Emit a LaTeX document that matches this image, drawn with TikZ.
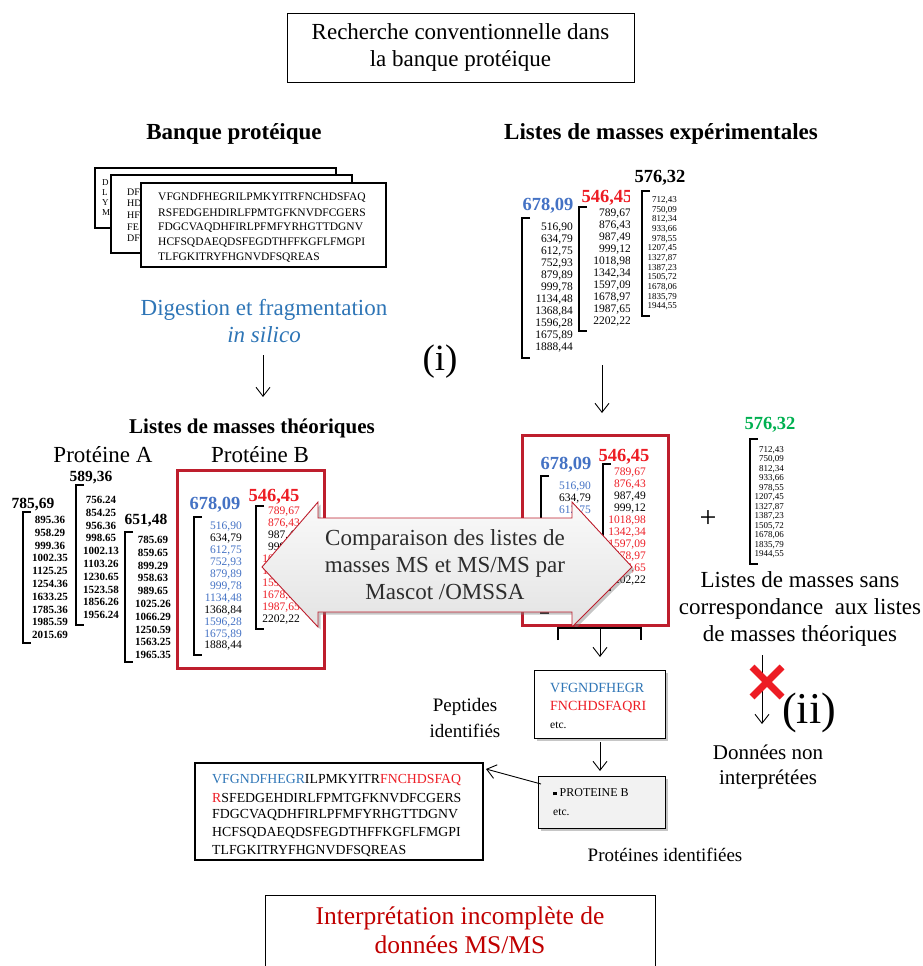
\documentclass[tikz,border=0pt]{standalone}
\usepackage{fontspec}
\setmainfont{Liberation Serif}
\usetikzlibrary{arrows.meta,shadows,positioning}
\definecolor{boxred}{RGB}{190,30,45}
\definecolor{numblue}{RGB}{68,114,196}
\definecolor{numred}{RGB}{237,28,36}
\definecolor{digblue}{RGB}{46,117,182}
\definecolor{numgreen}{RGB}{0,176,80}
\definecolor{intred}{RGB}{192,0,0}
\definecolor{txtgray}{RGB}{45,45,45}
\tikzset{
  big/.style={font=\fontsize{23}{27}\selectfont, align=center, inner sep=0pt},
  side/.style={font=\fontsize{19}{26}\selectfont, align=center, inner sep=0pt},
  ttl/.style={font=\bfseries\fontsize{23}{24}\selectfont, inner sep=0pt},
  hdr/.style={font=\bfseries\fontsize{18.5}{19}\selectfont, inner sep=0pt},
  hdrA/.style={font=\bfseries\fontsize{15.5}{16}\selectfont, inner sep=0pt},
  num/.style={anchor=east, inner sep=0pt, font=\fontsize{11.5}{12}\selectfont},
  numA/.style={inner sep=0pt, font=\bfseries\fontsize{11}{12}\selectfont},
  numsm/.style={anchor=east, inner sep=0pt, font=\fontsize{9}{9}\selectfont},
  seq/.style={anchor=west, inner sep=0pt, font=\fontsize{11.5}{12}\selectfont},
  seqbig/.style={anchor=west, inner sep=0pt, font=\fontsize{13.8}{14}\selectfont},
  brk/.style={line width=1.4pt},
  redbox/.style={draw=boxred, line width=3pt},
  seqbox/.style={draw, line width=1.2pt, fill=white},
  arr/.style={-{Straight Barb[length=9pt,width=14pt]}, line width=0.9pt},
  shad/.style={drop shadow={opacity=0.45, shadow xshift=2.5pt, shadow yshift=-2.5pt}},
}
\newcommand{\massbracket}[3]{\draw[brk] (#1+8,#2) -- (#1,#2) -- (#1,#3) -- (#1+8,#3);}
\begin{document}
\begin{tikzpicture}[x=1pt,y=-1pt]
\useasboundingbox (0,0) rectangle (923,966);
% Titre
\node[big, draw, line width=0.8pt, minimum width=347pt, minimum height=69pt] (titre) at (460.5,47.5) {Recherche conventionnelle dans\\la banque protéique};
\node[ttl] (tbanque) at (234,134) {Banque protéique};
\node[ttl] (texp) at (661,134) {Listes de masses expérimentales};
% Banque : fiches empilées
\draw[seqbox] (95,168) rectangle (336,228);
\foreach \s [count=\i from 0] in {D,L,Y,M}
  \node[seq, font=\fontsize{9}{9}\selectfont] (ba\i) at (102,183+10*\i) {\s};
\draw[seqbox] (111,175) rectangle (352,253);
\foreach \s [count=\i from 0] in {DF,HD,HF,FE,DF}
  \node[seq, font=\fontsize{10}{10}\selectfont] (bb\i) at (127,192+11.6*\i) {\s};
\draw[seqbox] (141,183) rectangle (386,267);
\foreach \s [count=\i from 0] in {VFGNDFHEGRILPMKYITRFNCHDSFAQ,RSFEDGEHDIRLFPMTGFKNVDFCGERS,FDGCVAQDHFIRLPFMFYRHGTTDGNV,HCFSQDAEQDSFEGDTHFFKGFLFMGPI,TLFGKITRYFHGNVDFSQREAS}
  \node[seq] (bc\i) at (158,198+15*\i) {\s};
\node[big, text=digblue] (digest) at (264,321) {Digestion et fragmentation\\\itshape in silico};
\coordinate (d1) at (263,355);
\coordinate (d2) at (263,397);
\draw[arr] (d1) -- (d2);
\node[font=\fontsize{37}{37}\selectfont, inner sep=0pt] (etapei) at (440,362) {(i)};
% Listes expérimentales
\node[hdr, text=numblue] (e678) at (548,206) {678,09};
\massbracket{522}{218}{358}
\foreach \v [count=\i from 0] in {516{,}90,634{,}79,612{,}75,752{,}93,879{,}89,999{,}78,1134{,}48,1368{,}84,1596{,}28,1675{,}89,1888{,}44}
  \node[num] (ea\i) at (573,228+12*\i) {\v};
\begin{scope}
  \clip (570,180) rectangle (629,340);
  \node[hdr, text=numred] (e546) at (607,198) {546,45};
  \foreach \v [count=\i from 0] in {789{,}67,876{,}43,987{,}49,999{,}12,1018{,}98,1342{,}34,1597{,}09,1678{,}97,1987{,}65,2202{,}22}
    \node[num] (eb\i) at (631,214+12*\i) {\v};
\end{scope}
\massbracket{579}{207}{331}
\node[hdr] (e576) at (660,178) {576,32};
\massbracket{642}{191}{316}
\foreach \v [count=\i from 0] in {712{,}43,750{,}09,812{,}34,933{,}66,978{,}55,1207{,}45,1327{,}87,1387{,}23,1505{,}72,1678{,}06,1835{,}79,1944{,}55}
  \node[numsm] (ec\i) at (677,200+9.7*\i) {\v};
\coordinate (d3) at (602,365);
\coordinate (d4) at (602,413);
\draw[arr] (d3) -- (d4);
% Listes théoriques
\node[ttl, font=\bfseries\fontsize{21}{24}\selectfont] (ttheo) at (252,428) {Listes de masses théoriques};
\node[big] (protA) at (103,455) {Protéine A};
\node[big] (protB) at (260,455) {Protéine B};
\node[hdrA] (a785) at (33,505) {785,69};
\massbracket{23}{512}{643}
\foreach \v [count=\i from 0] in {895.36,958.29,999.36,1002.35,1125.25,1254.36,1633.25,1785.36,1985.59,2015.69}
  \node[numA] (aa\i) at (50,520+12.8*\i) {\v};
\node[hdrA] (a589) at (91,478) {589,36};
\massbracket{76}{485}{625}
\foreach \v [count=\i from 0] in {756.24,854.25,956.36,998.65,1002.13,1103.26,1230.65,1523.58,1856.26,1956.24}
  \node[numA] (ab\i) at (101,500+12.8*\i) {\v};
\node[hdrA] (a651) at (146,521) {651,48};
\massbracket{125}{532}{662}
\foreach \v [count=\i from 0] in {785.69,859.65,899.29,958.63,989.65,1025.26,1066.29,1250.59,1563.25,1965.35}
  \node[numA] (ac\i) at (153,540+12.8*\i) {\v};
% Protéine B
\node[redbox, minimum width=147pt, minimum height=198pt] (boxB) at (250.5,569) {};
\node[hdr, text=numblue] (b678) at (215,505) {678,09};
\massbracket{194}{517}{655}
\foreach \v/\c [count=\i from 0] in {516{,}90/numblue,634{,}79/black,612{,}75/numblue,752{,}93/numblue,879{,}89/numblue,999{,}78/numblue,1134{,}48/numblue,1368{,}84/black,1596{,}28/numblue,1675{,}89/numblue,1888{,}44/black}
  \node[num, text=\c] (pa\i) at (242,527+11.9*\i) {\v};
\node[hdr, text=numred] (b546) at (274,497) {546,45};
\massbracket{256}{506}{629}
\foreach \v/\c [count=\i from 0] in {789{,}67/numred,876{,}43/numred,987{,}49/black,999{,}12/black,1018{,}98/numred,1342{,}34/numred,1597{,}09/numred,1678{,}97/numred,1987{,}65/numred,2202{,}22/black}
  \node[num, text=\c] (pb\i) at (300,512+12*\i) {\v};
% Listes expérimentales retenues (le reste est sous la flèche)
\node[redbox, minimum width=146pt, minimum height=190pt] (boxR) at (595,530) {};
\node[hdr, text=numblue] (r678) at (566,465) {678,09};
\massbracket{541}{476}{613}
\foreach \v/\c/\i in {516{,}90/numblue/0,634{,}79/black/1,612{,}75/numblue/2,1888{,}44/black/10}
  \node[num, text=\c] (ra\i) at (591,487+12*\i) {\v};
\node[hdr, text=numred] (r546) at (624,457) {546,45};
\massbracket{603}{464}{590}
\foreach \v/\c [count=\i from 0] in {789{,}67/numred,876{,}43/numred,987{,}49/black,999{,}12/black,1018{,}98/numred,1342{,}34/numred,1597{,}09/numred,1678{,}97/numred,1987{,}65/numred,2202{,}22/black}
  \node[num, text=\c] (rb\i) at (646,473+12*\i) {\v};
% Flèche double de comparaison
\draw[draw=boxred, line width=0.9pt, top color=gray!4, bottom color=gray!22, shad]
  (262,567) -- (318,502) -- (318,518) -- (572,518) -- (572,502) -- (632,567)
  -- (572,627) -- (572,612) -- (318,612) -- (318,627) -- cycle;
\node[big, text=txtgray] (compar) at (445,565) {Comparaison des listes de\\masses MS et MS/MS par\\Mascot /OMSSA};
% Masses sans correspondance
\node[font=\fontsize{30}{30}\selectfont, inner sep=0pt] (plus) at (708,519) {+};
\node[hdr, text=numgreen] (g576) at (770,425) {576,32};
\massbracket{750}{439}{564}
\foreach \v [count=\i from 0] in {712{,}43,750{,}09,812{,}34,933{,}66,978{,}55,1207{,}45,1327{,}87,1387{,}23,1505{,}72,1678{,}06,1835{,}79,1944{,}55}
  \node[numsm] (gc\i) at (784,450+9.5*\i) {\v};
\node[big] (sanscor) at (800,609) {Listes de masses sans\\correspondance~~aux listes\\de masses théoriques};
\coordinate (x1) at (762,655);
\coordinate (x2) at (762,724);
\draw[arr] (x1) -- (x2);
\draw[line width=7pt, numred] (752,667) -- (782,697) (782,667) -- (752,697);
\node[font=\fontsize{44}{44}\selectfont, inner sep=0pt] (etapeii) at (809,713) {(ii)};
\node[big, font=\fontsize{21}{25}\selectfont] (nonint) at (768,767) {Données non\\interprétées};
% Identification
\draw[line width=1.2pt] (558,640) -- (558,628) -- (641,628) -- (641,640);
\coordinate (c1) at (600,628);
\coordinate (c2) at (600,657);
\draw[arr] (c1) -- (c2);
\node[draw, line width=1pt, fill=white, shad, minimum width=131pt, minimum height=68pt] (pep) at (599.5,704) {};
\node[seqbig, text=digblue, font=\fontsize{14}{14}\selectfont] (pep1) at (550,688) {VFGNDFHEGR};
\node[seqbig, text=numred, font=\fontsize{14}{14}\selectfont] (pep2) at (550,707) {FNCHDSFAQRI};
\node[seq] (pep3) at (550,725) {etc.};
\node[side] (tpep) at (465,718) {Peptides\\identifiés};
\coordinate (c3) at (600,742);
\coordinate (c4) at (600,771);
\draw[arr] (c3) -- (c4);
\node[draw, line width=1pt, fill=gray!10, shad, minimum width=127pt, minimum height=52pt] (prot) at (601.5,802) {};
\node[seq, font=\fontsize{12}{12}\selectfont] (prot1) at (553,793) {\rule[1.5pt]{3.5pt}{3.5pt}~PROTEINE B};
\node[seq] (prot2) at (553,812) {etc.};
\node[side] (tprot) at (665,855) {Protéines identifiées};
% Séquence de la protéine B
\draw[line width=1.2pt] (195,763) rectangle (483,860);
\node[seqbig] (s0) at (212,780) {\textcolor{digblue}{VFGNDFHEGR}ILPMKYITR\textcolor{numred}{FNCHDSFAQ}};
\node[seqbig] (s1) at (212,797.7) {\textcolor{numred}{R}SFEDGEHDIRLFPMTGFKNVDFCGERS};
\node[seqbig] (s2) at (212,815.4) {FDGCVAQDHFIRLPFMFYRHGTTDGNV};
\node[seqbig] (s3) at (212,833.1) {HCFSQDAEQDSFEGDTHFFKGFLFMGPI};
\node[seqbig] (s4) at (212,850.8) {TLFGKITRYFHGNVDFSQREAS};
\coordinate (c5) at (541,784);
\coordinate (c6) at (486,769);
\draw[arr] (c5) -- (c6);
% Conclusion
\node[big, draw, line width=0.8pt, text=intred, font=\fontsize{25.5}{29}\selectfont, minimum width=390pt, minimum height=71pt] (interp) at (460,930.5) {Interprétation incomplète de\\données MS/MS};
\end{tikzpicture}
\end{document}
